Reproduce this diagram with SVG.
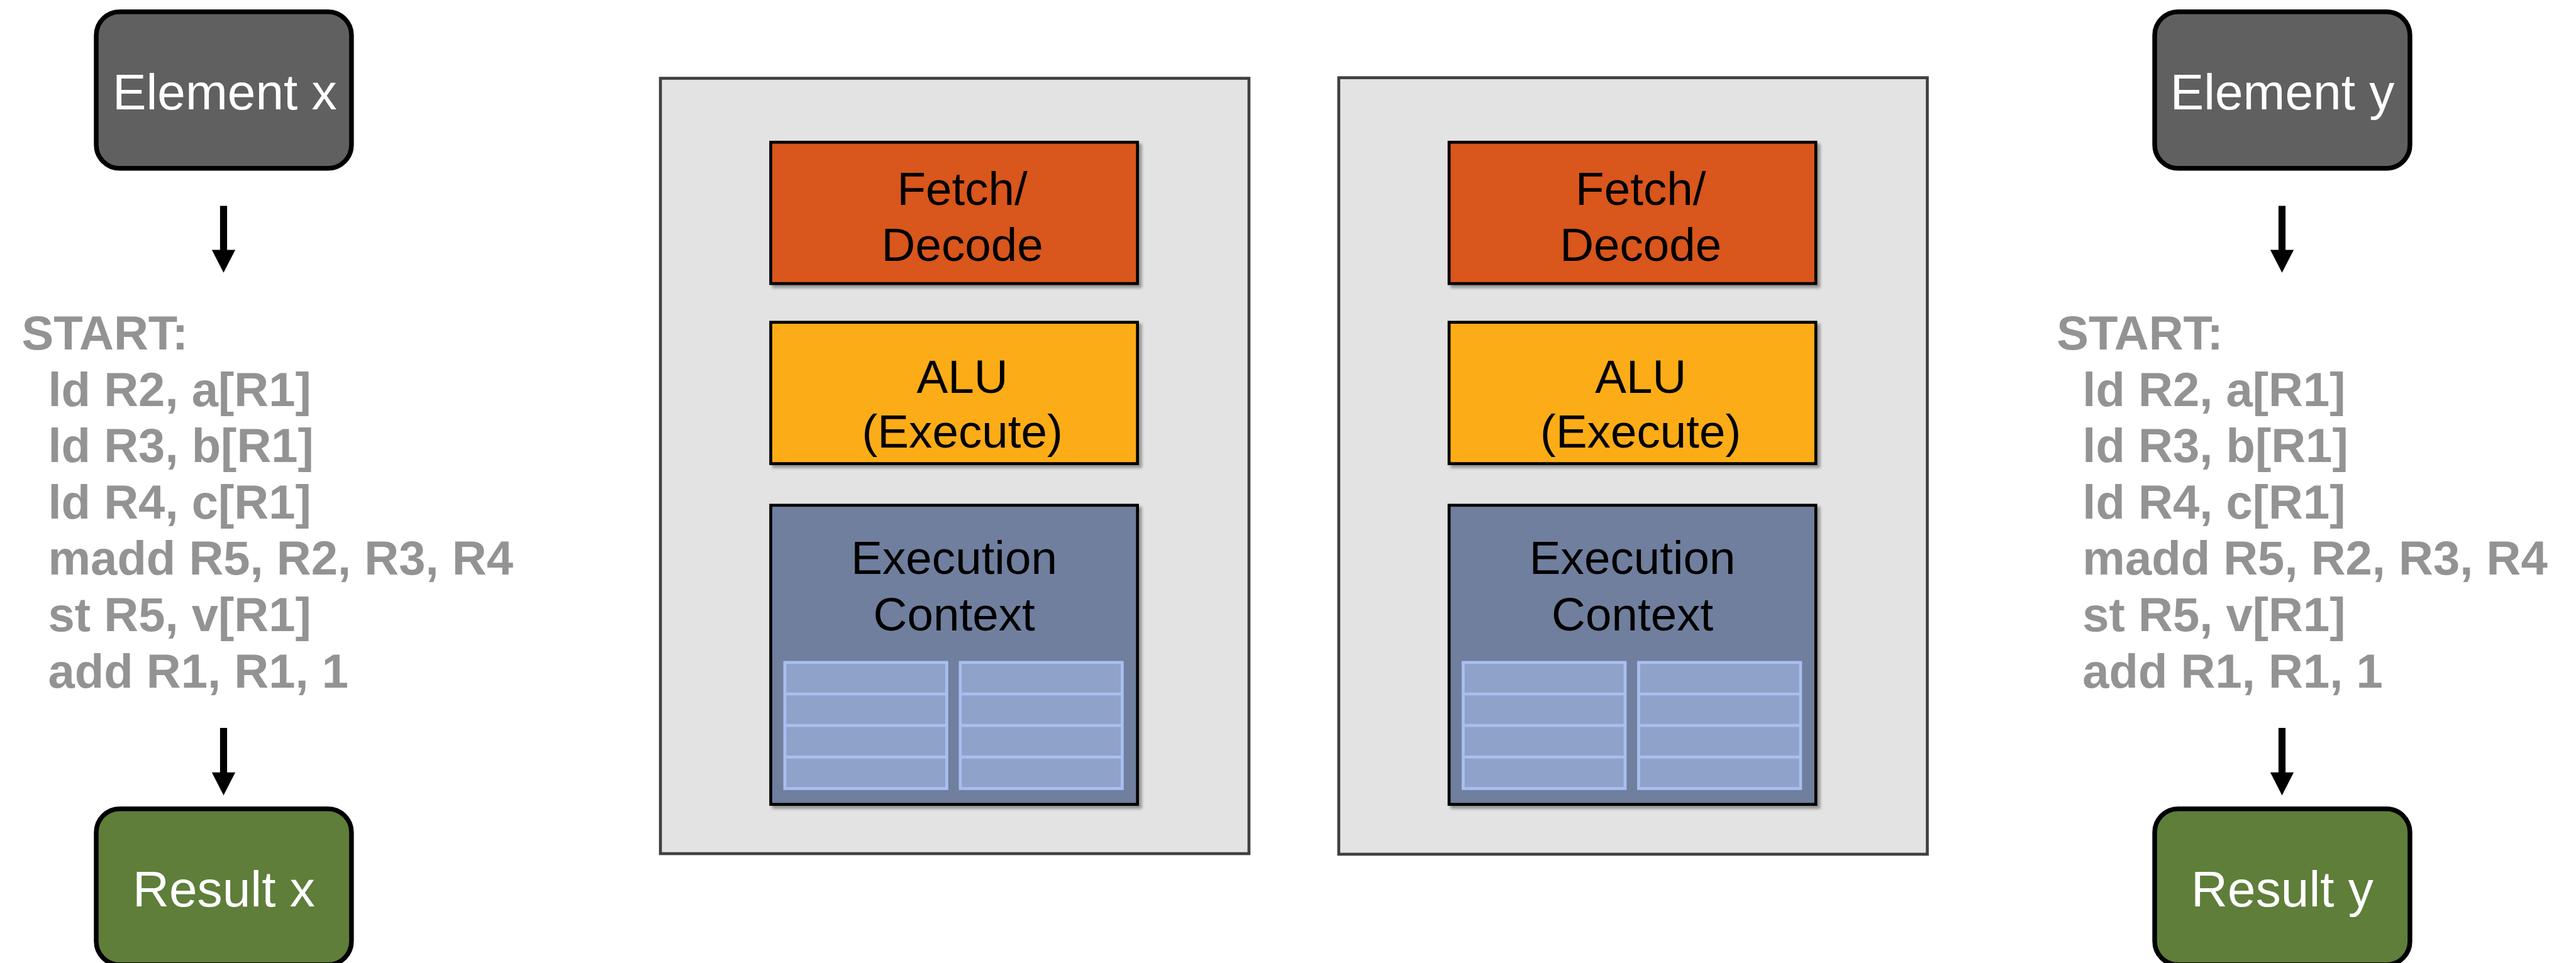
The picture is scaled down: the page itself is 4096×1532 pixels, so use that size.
<svg xmlns="http://www.w3.org/2000/svg" width="4096" height="1532" viewBox="0 0 4096 1532">
  <style>
    .term { stroke: #000; stroke-width: 8; }
    .elem { fill: #606060; }
    .res { fill: #5e7e3a; }
    .termtxt { font-family: "Liberation Sans", Arial, sans-serif; font-size: 86px; fill: #fff; text-anchor: middle; }
    .code { font-family: "Liberation Sans", Arial, sans-serif; font-size: 81.5px; font-weight: bold; fill: #939393; }
    .panel { fill: #e3e3e3; stroke: #404040; stroke-width: 5; }
    .unit { stroke: #000; stroke-width: 5; filter: url(#shadow); }
    .fetch { fill: #d9571d; }
    .alu { fill: #fcac16; }
    .ctx { fill: #6f7f9e; }
    .unittxt { font-family: "Liberation Sans", Arial, sans-serif; font-size: 80px; fill: #000; text-anchor: middle; }
    .reg { fill: #8fa2c9; stroke: #a9bff0; stroke-width: 5; }
    .regline { stroke: #a9bff0; stroke-width: 5; }
    .shaft { stroke: #000; stroke-width: 12; }
    .head { fill: #000; }
  </style>
  <defs>
    <filter id="shadow" x="-5%" y="-5%" width="115%" height="115%">
      <feDropShadow dx="5" dy="5" stdDeviation="2" flood-color="#000" flood-opacity="0.35"/>
    </filter>
    <!-- one register table: 4 rows -->
    <g id="regtable">
      <rect class="reg" x="2.5" y="2.5" width="276" height="215"/>
      <line class="regline" x1="2.5" y1="56.25" x2="278.5" y2="56.25"/>
      <line class="regline" x1="2.5" y1="110" x2="278.5" y2="110"/>
      <line class="regline" x1="2.5" y1="163.75" x2="278.5" y2="163.75"/>
    </g>
  </defs>

  <g transform="scale(0.93303)">
    <!-- left column: element x -->
    <g id="element-x">
      <rect class="term elem" x="164" y="20" width="435" height="267" rx="40" ry="40"/>
      <text class="termtxt" x="383" y="186">Element x</text>
    </g>
    <g id="code-x">
      <text class="code" x="37" y="596">START:</text>
      <text class="code" x="82" y="692">ld R2, a[R1]</text>
      <text class="code" x="82" y="788">ld R3, b[R1]</text>
      <text class="code" x="82" y="884">ld R4, c[R1]</text>
      <text class="code" x="82" y="980">madd R5, R2, R3, R4</text>
      <text class="code" x="82" y="1076">st R5, v[R1]</text>
      <text class="code" x="82" y="1172">add R1, R1, 1</text>
    </g>
    <g id="result-x">
      <rect class="term res" x="164" y="1379" width="435" height="266" rx="40" ry="40"/>
      <text class="termtxt" x="381.5" y="1545">Result x</text>
    </g>

    <!-- core 1 -->
    <g id="core-1">
      <rect class="panel" x="1125.5" y="133.5" width="1003" height="1322"/>
      <g id="core-1-fetch">
        <rect class="unit fetch" x="1313.5" y="242.5" width="625" height="241"/>
        <text class="unittxt" x="1640" y="349">Fetch/</text>
        <text class="unittxt" x="1640" y="445">Decode</text>
      </g>
      <g id="core-1-alu">
        <rect class="unit alu" x="1313.5" y="549.5" width="625" height="241"/>
        <text class="unittxt" x="1640" y="670">ALU</text>
        <text class="unittxt" x="1640" y="763">(Execute)</text>
      </g>
      <g id="core-1-context">
        <rect class="unit ctx" x="1313.5" y="861.5" width="625" height="510"/>
        <text class="unittxt" x="1626" y="978">Execution</text>
        <text class="unittxt" x="1626" y="1075">Context</text>
        <use href="#regtable" x="1335" y="1127"/>
        <use href="#regtable" x="1634" y="1127"/>
      </g>
    </g>

    <!-- core 2 -->
    <g id="core-2">
      <rect class="panel" x="2281.5" y="132.5" width="1003" height="1324"/>
      <g id="core-2-fetch">
        <rect class="unit fetch" x="2469.5" y="242.5" width="625" height="241"/>
        <text class="unittxt" x="2796" y="349">Fetch/</text>
        <text class="unittxt" x="2796" y="445">Decode</text>
      </g>
      <g id="core-2-alu">
        <rect class="unit alu" x="2469.5" y="549.5" width="625" height="241"/>
        <text class="unittxt" x="2796" y="670">ALU</text>
        <text class="unittxt" x="2796" y="763">(Execute)</text>
      </g>
      <g id="core-2-context">
        <rect class="unit ctx" x="2469.5" y="861.5" width="625" height="510"/>
        <text class="unittxt" x="2782" y="978">Execution</text>
        <text class="unittxt" x="2782" y="1075">Context</text>
        <use href="#regtable" x="2491" y="1127"/>
        <use href="#regtable" x="2790" y="1127"/>
      </g>
    </g>

    <!-- right column: element y -->
    <g id="element-y">
      <rect class="term elem" x="3672" y="20" width="435" height="267" rx="40" ry="40"/>
      <text class="termtxt" x="3889.5" y="186">Element y</text>
    </g>
    <g id="code-y">
      <text class="code" x="3505" y="596">START:</text>
      <text class="code" x="3549" y="692">ld R2, a[R1]</text>
      <text class="code" x="3549" y="788">ld R3, b[R1]</text>
      <text class="code" x="3549" y="884">ld R4, c[R1]</text>
      <text class="code" x="3549" y="980">madd R5, R2, R3, R4</text>
      <text class="code" x="3549" y="1076">st R5, v[R1]</text>
      <text class="code" x="3549" y="1172">add R1, R1, 1</text>
    </g>
    <g id="result-y">
      <rect class="term res" x="3672" y="1379" width="435" height="266" rx="40" ry="40"/>
      <text class="termtxt" x="3889.5" y="1545">Result y</text>
    </g>

    <!-- connectors -->
    <g id="connectors">
      <line class="shaft" x1="381" y1="351" x2="381" y2="428"/>
      <polygon class="head" points="361,426 401,426 381,465"/>
      <line class="shaft" x1="381" y1="1241" x2="381" y2="1319"/>
      <polygon class="head" points="361,1317 401,1317 381,1356"/>
      <line class="shaft" x1="3889" y1="351" x2="3889" y2="428"/>
      <polygon class="head" points="3869,426 3909,426 3889,465"/>
      <line class="shaft" x1="3889" y1="1241" x2="3889" y2="1319"/>
      <polygon class="head" points="3869,1317 3909,1317 3889,1356"/>
    </g>
  </g>
</svg>
